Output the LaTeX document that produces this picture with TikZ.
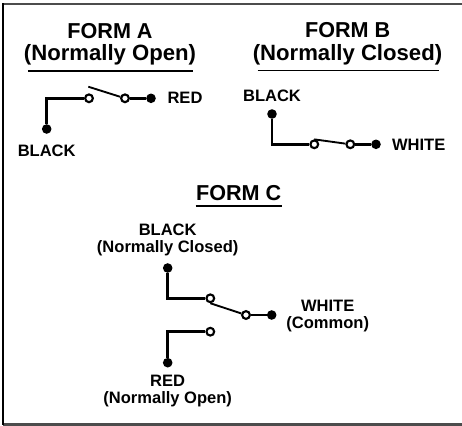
\documentclass[tikz,border=0pt]{standalone}
\usepackage{fontspec}
\setmainfont{Liberation Sans}
\tikzset{
    title/.style={font=\bfseries\fontsize{16.2}{18}\selectfont},
    subtitle/.style={font=\bfseries\fontsize{16.6}{18}\selectfont},
    wirelabel/.style={font=\bfseries\fontsize{12.4}{14}\selectfont},
    terminal/.style={circle,fill=black,inner sep=0pt,minimum size=7.2pt},
    contact/.style={circle,draw=black,fill=white,line width=1.6pt,inner sep=0pt,minimum size=5.8pt},
    wire/.style={line width=1.9pt},
    blade/.style={line width=1.4pt},
    rule/.style={line width=1.4pt}
}

\begin{document}
\begin{tikzpicture}[x=0.75pt,y=-0.75pt]
    \useasboundingbox (0,0) rectangle (462,426);
    \draw[line width=1.8pt,black!70] (3.5,424.5) -- (462,424.5);
    \draw[line width=1.8pt,black!70] (3,4.2) -- (462,4.2);
    \draw[line width=1.5pt] (3.5,3) -- (3.5,425);

    % form a
    \node[title] (titleA) at (110,31) {FORM A};
    \node[subtitle] (subA) at (110,55) {(Normally Open)};
    \coordinate (ruleAl) at (28,70.7);
    \coordinate (ruleAr) at (193,70.7);
    \draw[rule] (ruleAl) -- (ruleAr);
    \node[terminal] (blackA) at (46.7,129) {};
    \node[contact] (fixA) at (89,98.3) {};
    \node[contact] (moveA) at (125,98.3) {};
    \node[terminal] (redA) at (151,98.3) {};
    \coordinate (tipA) at (88.3,86.7);
    \draw[wire] (blackA) |- (fixA);
    \draw[wire] (moveA) -- (redA);
    \draw[blade] (tipA) -- (moveA);
    \node[wirelabel] (labredA) at (185,98) {RED};
    \node[wirelabel] (labblackA) at (46.7,151) {BLACK};

    % form b
    \node[title] (titleB) at (347.7,30) {FORM B};
    \node[subtitle] (subB) at (347.5,55) {(Normally Closed)};
    \coordinate (ruleBl) at (257.7,70.5);
    \coordinate (ruleBr) at (439.3,70.5);
    \draw[rule] (ruleBl) -- (ruleBr);
    \node[terminal] (blackB) at (272,114) {};
    \node[contact] (fixB) at (314.3,144.3) {};
    \node[contact] (moveB) at (350.3,144.3) {};
    \node[terminal] (whiteB) at (376,144.3) {};
    \draw[wire] (blackB) |- (fixB);
    \draw[wire] (moveB) -- (whiteB);
    \draw[blade] (fixB.north) -- (moveB);
    \node[wirelabel] (labblackB) at (272,96) {BLACK};
    \node[wirelabel] (labwhiteB) at (418.7,144.5) {WHITE};

    % form c
    \node[title] (titleC) at (238.7,193.3) {FORM C};
    \coordinate (ruleCl) at (195.7,206);
    \coordinate (ruleCr) at (281.7,206);
    \draw[rule] (ruleCl) -- (ruleCr);
    \node[terminal] (blackC) at (167.7,268) {};
    \node[contact] (fixC) at (210.3,298.3) {};
    \node[contact] (moveC) at (246,315) {};
    \node[terminal] (whiteC) at (271.7,315) {};
    \node[contact] (openC) at (210.3,331.7) {};
    \node[terminal] (redC) at (167.7,362.7) {};
    \draw[wire] (blackC) |- (fixC);
    \draw[wire] (moveC) -- (whiteC);
    \draw[wire] (redC) |- (openC);
    \draw[blade] (fixC.south) -- (moveC);
    \node[wirelabel] (labblackC) at (167.7,230) {BLACK};
    \node[wirelabel] (subblackC) at (167.7,248.3) {(Normally Closed)};
    \node[wirelabel] (labwhiteC) at (327.7,306) {WHITE};
    \node[wirelabel] (subwhiteC) at (327.7,324.3) {(Common)};
    \node[wirelabel] (labredC) at (167.7,381) {RED};
    \node[wirelabel] (subredC) at (167.7,399.3) {(Normally Open)};
\end{tikzpicture}
\end{document}
